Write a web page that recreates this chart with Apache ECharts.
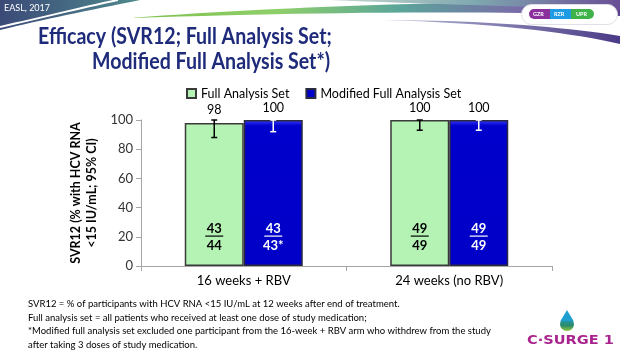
<!DOCTYPE html>
<html>
<head>
<meta charset="utf-8">
<script src="https://cdn.jsdelivr.net/npm/echarts@6/dist/echarts.min.js"></script>
<style>
  html, body { margin: 0; padding: 0; background: #fff; }
  #chart { width: 620px; height: 353px; }
</style>
</head>
<body>
<div id="chart"></div>
<script>
// data
const categories = ["16 weeks + RBV", "24 weeks (no RBV)"];
const fasValues = [98, 100];
const mfasValues = [100, 100];
const fasLow = [88, 93];
const fasHigh = [100, 100];
const mfasLow = [92, 93];
const mfasHigh = [100, 100];
const fasNum = ["43", "49"];
const fasDen = ["44", "49"];
const mfasNum = ["43", "49"];
const mfasDen = ["43*", "49"];

const footnotes = [
  "SVR12 = % of participants with HCV RNA <15 IU/mL at 12 weeks after end of treatment.",
  "Full analysis set = all patients who received at least one dose of study medication;",
  "*Modified full analysis set excluded one participant from the 16-week + RBV arm who withdrew from the study",
  "after taking 3 doses of study medication.",
];

const FONT = "Lato, 'Open Sans', sans-serif";
const BAR_W = 59;

const lin = (x2, y2, stops) => ({
  type: "linear", x: 0, y: 0, x2: x2, y2: y2,
  colorStops: stops.map(([o, c]) => ({ offset: o, color: c })),
});

// sample a cubic bezier into points (for header decoration only)
const bez = (p0, p1, p2, p3, n) => {
  const pts = [];
  for (let k = 0; k <= n; k++) {
    const t = k / n, u = 1 - t;
    pts.push([
      u * u * u * p0[0] + 3 * u * u * t * p1[0] + 3 * u * t * t * p2[0] + t * t * t * p3[0],
      u * u * u * p0[1] + 3 * u * u * t * p1[1] + 3 * u * t * t * p2[1] + t * t * t * p3[1],
    ]);
  }
  return pts;
};

const chart = echarts.init(document.getElementById("chart"));

// error bar + fraction text drawn per bar
const errorSeries = (name, low, high, num, den, offset, color) => ({
  type: "custom",
  name: name + "-err",
  z: 5,
  silent: true,
  data: categories.map((c, i) => [i, low[i], high[i]]),
  renderItem: (params, api) => {
    const i = api.value(0);
    const lo = api.coord([i, api.value(1)]);
    const hi = api.coord([i, api.value(2)]);
    const base = api.coord([i, 0]);
    const x = lo[0] + offset;
    const s = { stroke: color, lineWidth: 1.5 };
    return {
      type: "group",
      children: [
        { type: "line", shape: { x1: x, y1: lo[1], x2: x, y2: hi[1] }, style: s },
        { type: "line", shape: { x1: x - 3, y1: lo[1], x2: x + 3, y2: lo[1] }, style: s },
        { type: "line", shape: { x1: x - 3, y1: hi[1], x2: x + 3, y2: hi[1] }, style: s },
        {
          type: "text",
          style: {
            text: num[i], x: x, y: base[1] - 37, align: "center", verticalAlign: "middle",
            fill: color, font: "bold 13px " + FONT,
          },
        },
        {
          type: "rect",
          shape: { x: x - 9, y: base[1] - 30.5, width: 18, height: 1.2 },
          style: { fill: color },
        },
        {
          type: "text",
          style: {
            text: den[i], x: x, y: base[1] - 20, align: "center", verticalAlign: "middle",
            fill: color, font: "bold 13px " + FONT,
          },
        },
      ],
    };
  },
});

const option = {
  animation: false,
  textStyle: { fontFamily: FONT },
  grid: { left: 141, right: 68, top: 120, bottom: 87 },
  legend: {
    left: 181,
    top: 82,
    itemWidth: 9,
    itemHeight: 9,
    itemGap: 16,
    icon: "rect",
    data: ["Full Analysis Set", "Modified Full Analysis Set"],
    textStyle: { fontSize: 12.5, color: "#000", fontFamily: FONT },
  },
  xAxis: {
    type: "category",
    data: categories,
    axisLine: { lineStyle: { color: "#a6a6a6", width: 1 } },
    axisTick: { show: true, length: 5, lineStyle: { color: "#a6a6a6" } },
    axisLabel: { fontSize: 13, color: "#000", margin: 8 },
  },
  yAxis: {
    type: "value",
    min: 0,
    max: 100,
    interval: 20,
    name: "SVR12 (% with HCV RNA\n<15 IU/mL; 95% CI)",
    nameLocation: "middle",
    nameGap: 40,
    nameTextStyle: { fontWeight: "bold", fontSize: 12.5, color: "#000", lineHeight: 16 },
    axisLine: { show: true, lineStyle: { color: "#a6a6a6", width: 1 } },
    axisTick: { show: true, length: 5, lineStyle: { color: "#a6a6a6" } },
    axisLabel: { fontSize: 13, color: "#333", margin: 8 },
    splitLine: { show: false },
  },
  series: [
    {
      name: "Full Analysis Set",
      type: "bar",
      data: fasValues,
      barWidth: BAR_W,
      barGap: "0%",
      itemStyle: { color: "#b5f3b5", borderColor: "#3a3a3a", borderWidth: 1.5 },
      label: { show: true, position: "top", distance: 6, fontSize: 12.5, color: "#000" },
    },
    {
      name: "Modified Full Analysis Set",
      type: "bar",
      data: mfasValues,
      barWidth: BAR_W,
      barGap: "0%",
      itemStyle: {
        color: lin(0, 1, [[0, "#3a3aff"], [0.04, "#0000cc"], [1, "#0000c8"]]),
        borderColor: "#2a2a40",
        borderWidth: 1.5,
      },
      label: { show: true, position: "top", distance: 6, fontSize: 12.5, color: "#000" },
    },
    errorSeries("fas", fasLow, fasHigh, fasNum, fasDen, -BAR_W / 2, "#000"),
    errorSeries("mfas", mfasLow, mfasHigh, mfasNum, mfasDen, BAR_W / 2, "#fff"),
  ],
  graphic: [
    // header swooshes
    {
      type: "polygon", z: -1, silent: true,
      shape: { points: [[0, 0], [140, 0]].concat(bez([140, 0], [90, 10], [40, 20], [0, 30], 16)) },
      style: { fill: lin(1, 0, [[0, "#3b4a78"], [1, "#4f8a8c"]]) },
    },
    {
      type: "polyline", z: 0, silent: true,
      shape: { points: bez([0, 27], [40, 18], [80, 8], [118, 0], 16) },
      style: { stroke: "#fff", lineWidth: 2 },
    },
    {
      type: "polygon", z: -1, silent: true,
      shape: {
        points: bez([130, 18], [260, 8], [420, 2], [620, 0], 24)
          .concat(bez([620, 16], [500, 10], [330, 12], [130, 18], 24)),
      },
      style: {
        fill: lin(1, 0, [[0, "#7cc04a"], [0.3, "#8fcf6a"], [0.55, "#5aa59a"], [0.8, "#7a6aa8"], [1, "#5a3f8e"]]),
      },
    },
    {
      type: "polygon", z: -1, silent: true,
      shape: { points: [[330, 0], [620, 0], [620, 10]].concat(bez([620, 10], [520, 6], [420, 4], [330, 0], 16)) },
      style: { fill: lin(1, 0, [[0, "#c9d9d0"], [0.5, "#7fa8b0"], [1, "#6a4f96"]]) },
    },
    {
      type: "polygon", z: -1, silent: true,
      shape: {
        points: bez([380, 20], [470, 22], [560, 30], [620, 44], 20)
          .concat(bez([620, 36], [560, 26], [470, 20], [380, 20], 20)),
      },
      style: { fill: lin(1, 0, [[0, "#b8c0d8"], [1, "#4b3a86"]]) },
    },
    {
      type: "text", left: 4, top: 4,
      style: { text: "EASL, 2017", fill: "#fff", font: "9px " + FONT },
    },
    // drug badge
    {
      type: "rect", left: 521, top: 4, z: 2,
      shape: { width: 96, height: 20, r: 10 },
      style: { fill: "#fff", stroke: "#e0e0e8", lineWidth: 1 },
    },
    {
      type: "rect", left: 529, top: 9, z: 3,
      shape: { width: 21, height: 10, r: [5, 0, 0, 5] },
      style: { fill: "#8a2f9c" },
    },
    {
      type: "rect", left: 550, top: 9, z: 3,
      shape: { width: 21, height: 10 },
      style: { fill: "#1e9be4" },
    },
    {
      type: "rect", left: 571, top: 9, z: 3,
      shape: { width: 23, height: 10, r: [0, 5, 5, 0] },
      style: { fill: "#3fb34a" },
    },
    { type: "text", left: 533, top: 11, z: 4, style: { text: "GZR", fill: "#fff", font: "bold 5.5px " + FONT } },
    { type: "text", left: 554, top: 11, z: 4, style: { text: "RZR", fill: "#fff", font: "bold 5.5px " + FONT } },
    { type: "text", left: 576, top: 11, z: 4, style: { text: "UPR", fill: "#fff", font: "bold 5.5px " + FONT } },
    // title (Calibri-like width via horizontal squeeze)
    {
      type: "text", x: 38, y: 26, scaleX: 0.89,
      style: {
        text: "Efficacy (SVR12; Full Analysis Set;", fill: "#1e2a7a",
        font: "bold 22px " + FONT, verticalAlign: "top",
      },
    },
    {
      type: "text", x: 92, y: 51, scaleX: 0.89,
      style: {
        text: "Modified Full Analysis Set*)", fill: "#1e2a7a",
        font: "bold 22px " + FONT, verticalAlign: "top",
      },
    },
    // footnotes
    ...footnotes.map((t, i) => ({
      type: "text", left: 28, top: 299 + i * 13.5,
      style: { text: t, fill: "#000", font: "9.5px " + FONT },
    })),
    // C-SURGE 1 logo
    {
      type: "circle", silent: true, x: 567, y: 324,
      shape: { cx: 0, cy: 0, r: 7 },
      style: { fill: lin(0, 1, [[0, "#1f9fd0"], [0.6, "#2a8a6a"], [1, "#8cc63f"]]) },
    },
    {
      type: "polygon", silent: true,
      shape: { points: [[567, 310], [573.5, 321], [560.5, 321]] },
      style: { fill: "#1f9fd0" },
    },
    {
      type: "text", x: 527, y: 334, scaleX: 1.12,
      style: {
        text: "C·SURGE 1", fill: "#a8238e",
        font: "bold 13px 'DejaVu Sans', sans-serif", verticalAlign: "top",
      },
    },
  ],
};

chart.setOption(option);
</script>
</body>
</html>
